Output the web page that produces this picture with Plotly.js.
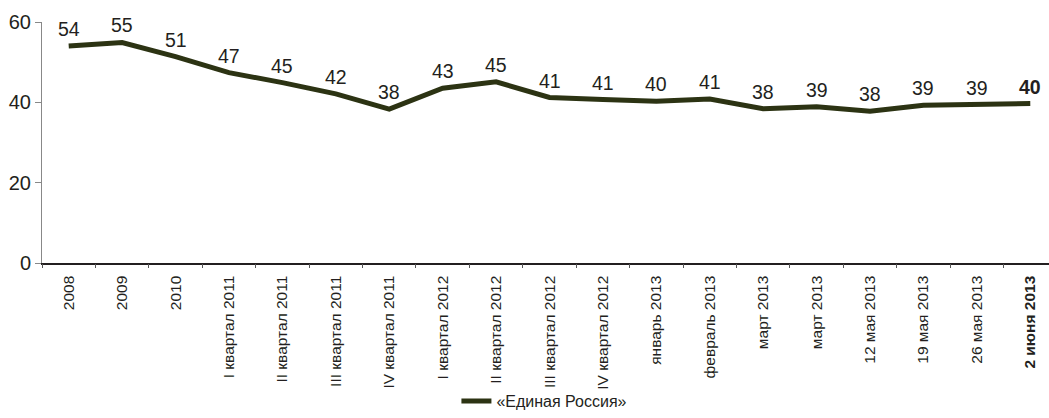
<!DOCTYPE html>
<html>
<head>
<meta charset="utf-8">
<script src="https://cdn.plot.ly/plotly-3.0.1.min.js"></script>
<style>
  html, body { margin: 0; padding: 0; overflow: hidden; background: #fff; }
  #chart { width: 1057px; height: 418px; }
</style>
</head>
<body>
<div id="chart"></div>
<script>
const categories = [
  "2008", "2009", "2010",
  "I квартал 2011", "II квартал 2011", "III квартал 2011", "IV квартал 2011",
  "I квартал 2012", "II квартал 2012", "III квартал 2012", "IV квартал 2012",
  "январь 2013", "февраль 2013", "март 2013", "март 2013",
  "12 мая 2013", "19 мая 2013", "26 мая 2013", "<b>2 июня 2013</b>"
];
const values = [54, 54.9, 51.4, 47.4, 44.9, 42.1, 38.3, 43.5, 45.1, 41.2, 40.7, 40.3, 40.8, 38.4, 38.9, 37.8, 39.3, 39.4, 39.7];
const labels = ["54", "55", "51", "47", "45", "42", "38", "43", "45", "41", "41", "40", "41", "38", "39", "38", "39", "39", "<b>40</b>"];
const seriesName = "«Единая Россия»";
const yTicks = [0, 20, 40, 60];

const idx = categories.map((c, i) => i);
const boundaries = categories.map((c, i) => i - 0.5).concat([categories.length - 0.5]);

const FONT = "'Liberation Sans Narrow', 'Arial Narrow', 'Liberation Sans', sans-serif";
const LINE = "#2c3313";

const traces = [
  {
    x: idx, y: values, type: "scatter", mode: "lines",
    name: seriesName,
    line: { color: LINE, width: 5 },
    hoverinfo: "skip"
  },
  {
    x: idx, y: values, type: "scatter", mode: "lines",
    xaxis: "x2", showlegend: false, opacity: 0,
    line: { width: 0 }, hoverinfo: "skip"
  }
];

const annotations = idx.map((i) => ({
  x: i, y: values[i], text: labels[i], showarrow: false,
  yshift: 17, xref: "x", yref: "y",
  font: { family: FONT, size: 19.5, color: "#231f20" }
}));

const layout = {
  width: 1057, height: 418,
  margin: { l: 42, r: 0, t: 22, b: 155 },
  paper_bgcolor: "#fff", plot_bgcolor: "#fff",
  showlegend: true,
  legend: {
    orientation: "h", x: 0.495, xanchor: "center", y: -0.575, yanchor: "middle",
    bgcolor: "rgba(0,0,0,0)",
    font: { family: FONT, size: 16, color: "#231f20" }
  },
  xaxis: {
    type: "linear", range: [-0.5, categories.length - 0.5],
    tickmode: "array", tickvals: idx, ticktext: categories,
    tickangle: -90, ticks: "", showgrid: false, zeroline: false,
    showline: true, linecolor: "#231f20", linewidth: 1.5,
    ticklabelstandoff: 5,
    tickfont: { family: FONT, size: 15.5, color: "#231f20" },
    automargin: false, fixedrange: true
  },
  xaxis2: {
    overlaying: "x", anchor: "y", side: "bottom",
    type: "linear", range: [-0.5, categories.length - 0.5],
    tickmode: "array", tickvals: boundaries, ticktext: boundaries.map(() => ""),
    ticks: "outside", ticklen: 4, tickcolor: "#555", tickwidth: 1,
    showticklabels: false, showgrid: false, zeroline: false, showline: false,
    automargin: false
  },
  yaxis: {
    range: [0, 60], tickmode: "array", tickvals: yTicks,
    ticks: "outside", ticklen: 6, tickcolor: "#888", tickwidth: 1,
    showgrid: false, zeroline: false,
    showline: true, linecolor: "#888", linewidth: 1,
    tickfont: { family: FONT, size: 20, color: "#231f20" },
    automargin: false, fixedrange: true
  },
  annotations: annotations
};

Plotly.newPlot("chart", traces, layout, { displayModeBar: false, staticPlot: true });
</script>
</body>
</html>
